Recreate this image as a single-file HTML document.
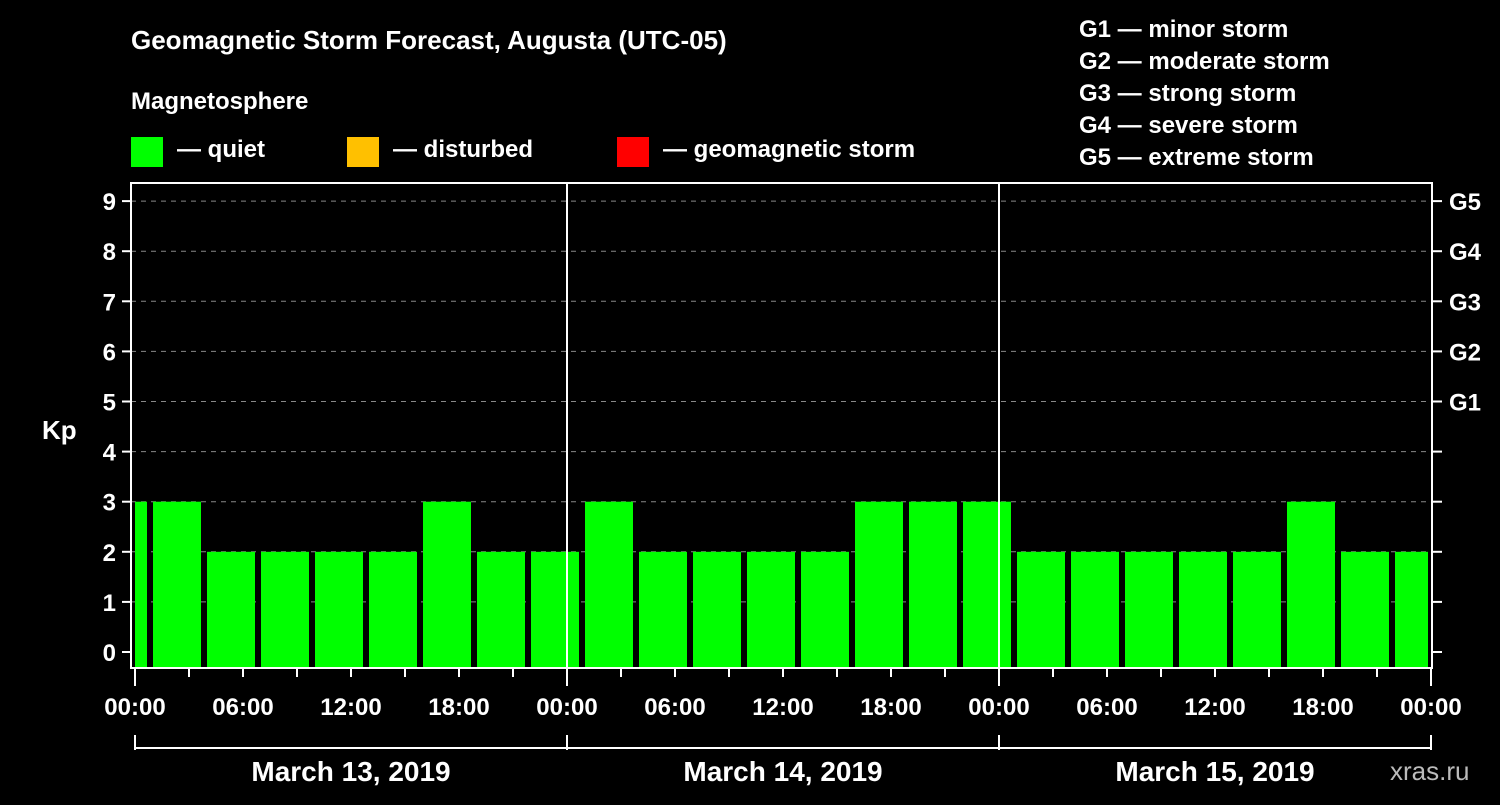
<!DOCTYPE html>
<html><head><meta charset="utf-8"><style>
body{margin:0;background:#000;width:1500px;height:800px;overflow:hidden;font-family:"Liberation Sans",sans-serif}
svg text{font-family:"Liberation Sans",sans-serif;font-weight:bold;fill:#fff}
</style></head><body>
<svg width="1500" height="800" id="c">
<text x="131" y="49" font-size="26">Geomagnetic Storm Forecast, Augusta (UTC-05)</text>
<text x="131" y="109" font-size="24">Magnetosphere</text>
<rect x="131" y="137" width="32" height="30" fill="#00ff00"/>
<text x="177" y="157" font-size="24">— quiet</text>
<rect x="347" y="137" width="32" height="30" fill="#ffc000"/>
<text x="393" y="157" font-size="24">— disturbed</text>
<rect x="617" y="137" width="32" height="30" fill="#ff0000"/>
<text x="663" y="157" font-size="24">— geomagnetic storm</text>
<g font-size="24">
<text x="1079" y="37">G1 — minor storm</text>
<text x="1079" y="69">G2 — moderate storm</text>
<text x="1079" y="101">G3 — strong storm</text>
<text x="1079" y="133">G4 — severe storm</text>
<text x="1079" y="165">G5 — extreme storm</text>
</g>
<text x="42" y="439" font-size="26">Kp</text>
<text x="1390" y="780" font-size="26" fill="#bbb" style="fill:#bbb;font-weight:normal">xras.ru</text>
<g id="grid"></g><g id="bars"></g><g id="axes"></g>
</svg>
<script>
const kpValues=[3,3,2,2,2,2,3,2,2, 3,2,2,2,2,3,3,3, 2,2,2,2,2,3,2,2];
const yTicks=[0,1,2,3,4,5,6,7,8,9];
const gLabels=["G1","G2","G3","G4","G5"];
const xTickLabels=["00:00","06:00","12:00","18:00","00:00","06:00","12:00","18:00","00:00","06:00","12:00","18:00","00:00"];
const dayLabels=["March 13, 2019","March 14, 2019","March 15, 2019"];
const firstBarHour=-2;
const L=131,R=1432,T=183,B=668,X0=135,PH=18;
const y=v=>652-v*50.1, x=h=>X0+h*PH;
const NS="http://www.w3.org/2000/svg";
function mk(p,tag,a){const e=document.createElementNS(NS,tag);for(const k in a)e.setAttribute(k,a[k]);document.getElementById(p).appendChild(e);return e;}
yTicks.forEach(v=>{
 if(v>0){const g=mk('grid','line',{x1:L,x2:R,y1:y(v),y2:y(v),stroke:'#888','stroke-dasharray':'5,5'});
 
 }
 const t=mk('axes','text',{x:116,y:y(v)+9,'font-size':24,'text-anchor':'end'});t.textContent=v;
 
 
 mk('axes','line',{x1:122,x2:L,y1:y(v),y2:y(v),stroke:'#fff','stroke-width':2});
 mk('axes','line',{x1:R,x2:1442,y1:y(v),y2:y(v),stroke:'#fff','stroke-width':2});
});
gLabels.forEach((g,i)=>{const t=mk('axes','text',{x:1449,y:y(5+i)+9,'font-size':24});t.textContent=g;
 
 });
kpValues.forEach((v,i)=>{
 let h0=firstBarHour+i*3, x1=Math.max(x(h0),X0), x2=Math.min(x(h0)+48,1428);
 const r=mk('bars','rect',{x:x1,y:y(v),width:x2-x1,height:B-y(v),fill:'#00ff00'});
 
 
});
[1,2].forEach(d=>mk('axes','line',{x1:x(24*d),x2:x(24*d),y1:T,y2:B,stroke:'#fff','stroke-width':2}));
const fr=mk('axes','rect',{x:L,y:T,width:R-L,height:B-T,fill:'none',stroke:'#fff','stroke-width':2});


for(let h=0;h<=72;h+=3){mk('axes','line',{x1:x(h),x2:x(h),y1:B,y2:h%24==0?686:677,stroke:'#fff','stroke-width':2});}
xTickLabels.forEach((s,i)=>{const t=mk('axes','text',{x:x(i*6),y:715,'font-size':24,'text-anchor':'middle'});t.textContent=s;
 
 });
mk('axes','line',{x1:X0,x2:x(72),y1:748,y2:748,stroke:'#fff','stroke-width':2});
for(let d=0;d<=3;d++)mk('axes','line',{x1:x(24*d),x2:x(24*d),y1:735,y2:750,stroke:'#fff','stroke-width':2});
dayLabels.forEach((s,i)=>{const t=mk('axes','text',{x:x(24*i+12),y:781,'font-size':28,'text-anchor':'middle'});t.textContent=s;
 
 });
</script>
</body></html>
